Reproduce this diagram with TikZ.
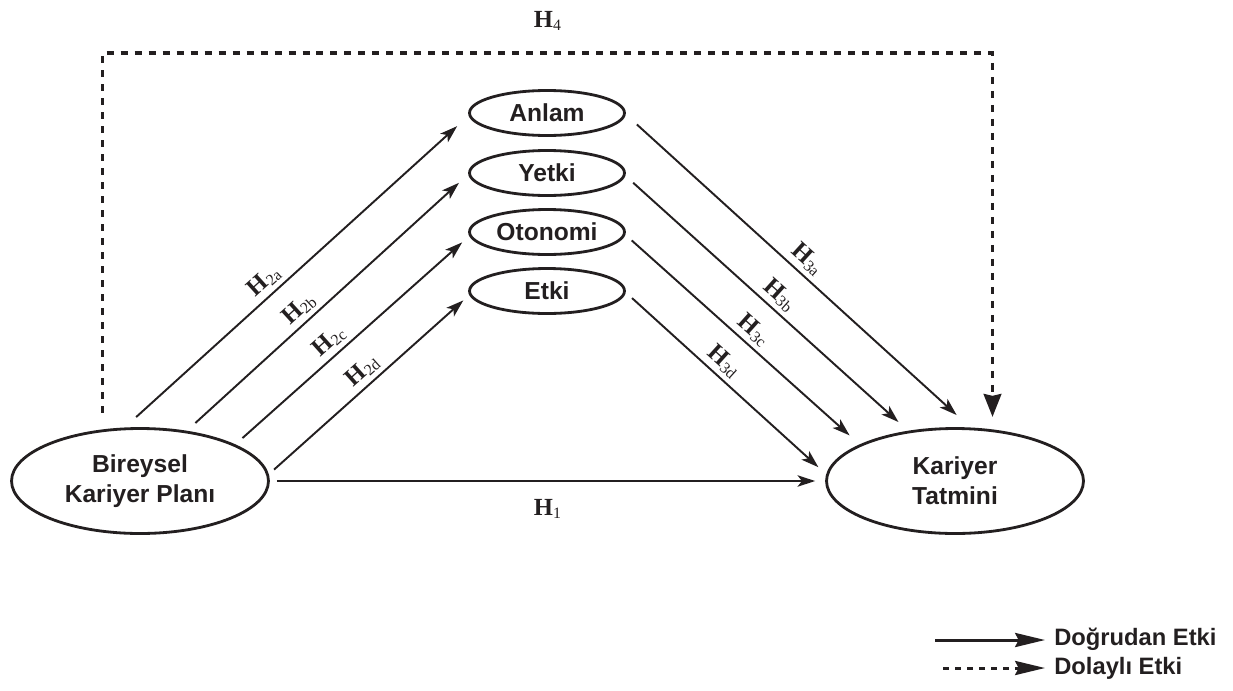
\documentclass[tikz,border=0pt]{standalone}
\usepackage{fontspec}
\setmainfont{Liberation Sans}
\newfontfamily\hypfont{Liberation Serif}
\usetikzlibrary{arrows.meta}
\usetikzlibrary{shapes.geometric}
\definecolor{ink}{RGB}{35,31,32}
\newcommand{\hyp}[1]{{\hypfont\fontsize{14}{14}\selectfont\textbf{H}\raisebox{-1.5pt}{\fontsize{9}{9}\selectfont #1}}}

\begin{document}
\begin{tikzpicture}[x=0.02cm,y=-0.02cm,ink,
  construct/.style={ellipse,draw,line width=1.6pt,inner sep=0pt,align=center,
    font=\bfseries\fontsize{14}{17}\selectfont},
  dim/.style={construct,minimum width=3.1cm,minimum height=0.9cm},
  big/.style={construct,minimum width=5.14cm,minimum height=2.1cm},
  direct/.style={line width=1.1pt,-{Stealth[length=10pt,width=6.5pt,inset=2.5pt]}},
  indirect/.style={line width=2pt,dash pattern=on 0.14cm off 0.14cm,
    -{Stealth[length=13pt,width=10pt,inset=1pt]}},
  hlabel/.style={inner sep=0pt,sloped,above=2.5pt},
  legtext/.style={anchor=west,inner sep=0pt,font=\bfseries\fontsize{13.5}{16}\selectfont},
  legdirect/.style={line width=1.7pt,-{Stealth[length=17pt,width=8pt,inset=2pt]}},
  legindirect/.style={legdirect,dash pattern=on 0.12cm off 0.12cm}]
\useasboundingbox (0,0) rectangle (1233,690);

\node[big] (bkp) at (140,481) {Bireysel\\Kariyer Planı};
\node[big] (tat) at (955,481) {Kariyer\\Tatmini};
\node[dim] (anlam) at (547,113) {Anlam};
\node[dim] (yetki) at (547,173) {Yetki};
\node[dim] (otonomi) at (547,232) {Otonomi};
\node[dim] (etki) at (547,291) {Etki};

% direct paths
\path[direct]
  (bkp.106) edge[shorten <=0.31cm,shorten >=0.31cm] node[hlabel,pos=0.434] (h2a) {\hyp{2a}} (anlam.182)
  (bkp.47) edge[shorten <=0.23cm,shorten >=0.25cm] node[hlabel,pos=0.433] (h2b) {\hyp{2b}} (yetki.181)
  (bkp.21) edge[shorten <=0.19cm,shorten >=0.19cm] node[hlabel,pos=0.442] (h2c) {\hyp{2c}} (otonomi.183)
  (bkp.3) edge[shorten <=0.14cm,shorten >=0.16cm] node[hlabel,pos=0.516] (h2d) {\hyp{2d}} (etki.183)
  (anlam.359) edge[shorten <=0.30cm,shorten >=0.37cm] node[hlabel,pos=0.498] (h3a) {\hyp{3a}} (tat.74)
  (yetki.358) edge[shorten <=0.21cm,shorten >=0.26cm] node[hlabel,pos=0.51] (h3b) {\hyp{3b}} (tat.133)
  (otonomi.358) edge[shorten <=0.17cm,shorten >=0.27cm] node[hlabel,pos=0.506] (h3c) {\hyp{3c}} (tat.159)
  (etki.359) edge[shorten <=0.17cm,shorten >=0.21cm] node[hlabel,pos=0.44] (h3d) {\hyp{3d}} (tat.177)
  (bkp.east) edge[shorten <=0.14cm,shorten >=0.2cm] node[inner sep=0pt,below=10pt] (h1) {\hyp{1}} (tat.west);

% indirect path
\coordinate (htop) at (0,53);
\draw[indirect,shorten <=0.33cm,shorten >=0.25cm] (bkp.126) -- (bkp.126 |- htop)
  -- node[inner sep=0pt,above=12pt] (h4) {\hyp{4}} (tat.54 |- htop) -- (tat.54);

% legend
\node[legtext] (dir) at (1054,639) {Doğrudan Etki};
\node[legtext] (indir) at (1054,668) {Dolaylı Etki};
\coordinate (ldir) at (935,640);
\coordinate (lindir) at (943,668);
\draw[legdirect,shorten >=0.18cm] (ldir) -- (ldir -| dir.west);
\draw[legindirect,shorten >=0.18cm] (lindir) -- (indir.west);
\end{tikzpicture}
\end{document}
